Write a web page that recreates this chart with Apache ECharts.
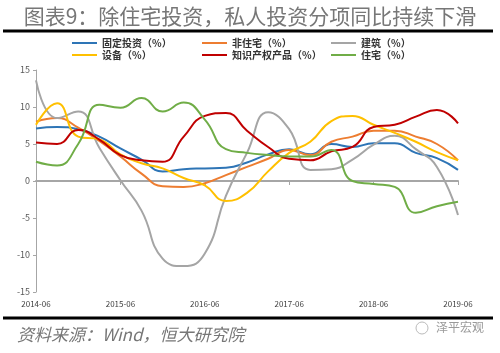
<!DOCTYPE html>
<html>
<head>
<meta charset="utf-8">
<script src="https://cdn.jsdelivr.net/npm/echarts@6/dist/echarts.min.js"></script>
<style>
  html, body { margin: 0; padding: 0; background: #fff; }
  #chart { width: 500px; height: 353px; }
</style>
</head>
<body>
<div id="chart"></div>
<script>
// 季度数据，2014-06 ~ 2019-06
const dates = ['2014-06', '2014-09', '2014-12', '2015-03', '2015-06', '2015-09', '2015-12', '2016-03',
  '2016-06', '2016-09', '2016-12', '2017-03', '2017-06', '2017-09', '2017-12', '2018-03',
  '2018-06', '2018-09', '2018-12', '2019-03', '2019-06'];

const fixedInv = [7.1, 7.3, 7.0, 6.0, 4.4, 2.9, 1.3, 1.6, 1.7, 1.8, 2.5, 3.6, 4.3, 3.6, 5.0, 4.6, 5.1, 5.1, 3.8, 3.1, 1.5];
const nonResi = [8.0, 8.5, 7.2, 5.4, 3.3, 1.0, -0.7, -0.8, -0.3, 0.8, 1.9, 3.0, 4.2, 3.5, 5.3, 6.0, 6.8, 6.8, 6.0, 5.0, 2.8];
const building = [13.6, 8.5, 9.4, 4.5, 0.1, -4.0, -10.5, -11.5, -9.8, -2.0, 3.8, 9.3, 7.0, 1.5, 1.6, 2.9, 4.9, 6.1, 4.3, 1.9, -4.6];
const equipment = [7.6, 10.5, 6.0, 5.6, 3.6, 2.4, 1.7, 0.4, -0.6, -2.7, -1.6, 1.3, 3.8, 5.3, 8.1, 8.8, 7.6, 6.5, 5.3, 3.9, 2.8];
const ipProduct = [5.2, 5.0, 6.9, 5.6, 3.5, 2.8, 2.6, 6.0, 8.8, 9.2, 6.8, 4.6, 3.0, 2.8, 4.0, 4.6, 7.3, 7.6, 8.7, 9.6, 7.8];
const residential = [2.6, 2.1, 5.0, 10.3, 9.9, 11.2, 9.4, 10.6, 8.3, 4.3, 3.8, 3.5, 3.3, 3.3, 4.2, 0.0, -0.4, -0.8, -4.3, -3.4, -2.8];

const yTicks = [-15, 15, 5]; // min, max, interval

const chart = echarts.init(document.getElementById('chart'));

function line(name, data, color) {
  return {
    name: name,
    type: 'line',
    data: data,
    smooth: true,
    symbol: 'none',
    xAxisIndex: 0,
    lineStyle: { width: 2, color: color },
    itemStyle: { color: color }
  };
}

const legendText = { fontSize: 10, fontWeight: 'bold', color: '#333', fontFamily: 'Noto Sans CJK SC' };
function legend(left, names) {
  return {
    left: left,
    top: 38,
    orient: 'vertical',
    itemWidth: 25,
    itemHeight: 2,
    itemGap: 2,
    icon: 'rect',
    padding: 0,
    textStyle: legendText,
    data: names
  };
}

const option = {
  animation: false,
  backgroundColor: '#fff',
  textStyle: { fontFamily: 'Noto Sans CJK SC' },
  title: {
    text: '图表9：除住宅投资，私人投资分项同比持续下滑',
    left: 'center',
    top: 1,
    textStyle: { fontSize: 21, fontWeight: 'normal', color: '#777', fontFamily: 'Noto Sans CJK SC' }
  },
  legend: [
    legend(72, ['固定投资（%）', '设备（%）']),
    legend(202, ['非住宅（%）', '知识产权产品（%）']),
    legend(331, ['建筑（%）', '住宅（%）'])
  ],
  grid: { left: 36, right: 42, top: 70, bottom: 61 },
  xAxis: [
    {
      type: 'category',
      data: dates,
      boundaryGap: false,
      axisLine: { show: false, onZero: false },
      axisTick: { show: false },
      axisLabel: {
        interval: 3,
        fontSize: 8,
        color: '#404040',
        margin: 8
      }
    },
    {
      type: 'category',
      data: dates,
      boundaryGap: false,
      position: 'bottom',
      axisLine: { onZero: true, lineStyle: { color: '#A6A6A6', width: 2 } },
      axisTick: { show: true, interval: 3, length: 4, lineStyle: { color: '#A6A6A6' } },
      axisLabel: { show: false }
    }
  ],
  yAxis: {
    type: 'value',
    min: yTicks[0],
    max: yTicks[1],
    interval: yTicks[2],
    axisLine: { show: true, lineStyle: { color: '#A6A6A6', width: 1 } },
    axisTick: { show: true, length: 3, lineStyle: { color: '#A6A6A6' } },
    splitLine: { show: false },
    axisLabel: { fontSize: 9, color: '#595959', margin: 6 }
  },
  series: [
    line('固定投资（%）', fixedInv, '#2E75B6'),
    line('非住宅（%）', nonResi, '#ED7D31'),
    line('建筑（%）', building, '#A5A5A5'),
    line('设备（%）', equipment, '#FFC000'),
    line('知识产权产品（%）', ipProduct, '#C00000'),
    line('住宅（%）', residential, '#70AD47')
  ],
  graphic: [
    { type: 'line', shape: { x1: 3, y1: 31, x2: 493, y2: 31 }, style: { stroke: '#000', lineWidth: 3 } },
    { type: 'line', shape: { x1: 3, y1: 318, x2: 493, y2: 318 }, style: { stroke: '#000', lineWidth: 3 } },
    {
      type: 'text', left: 17, top: 326,
      style: { text: '资料来源：Wind，恒大研究院', fontSize: 17, fontStyle: 'italic', fill: '#777', fontFamily: 'Noto Sans CJK SC' }
    },
    {
      type: 'text', left: 436, top: 321,
      style: { text: '泽平宏观', fontSize: 12, fill: '#999', fontFamily: 'Noto Sans CJK SC' }
    },
    {
      type: 'circle', shape: { cx: 422, cy: 328, r: 6 },
      style: { fill: 'none', stroke: '#bbb', lineWidth: 1 }
    }
  ]
};

chart.setOption(option);
</script>
</body>
</html>
